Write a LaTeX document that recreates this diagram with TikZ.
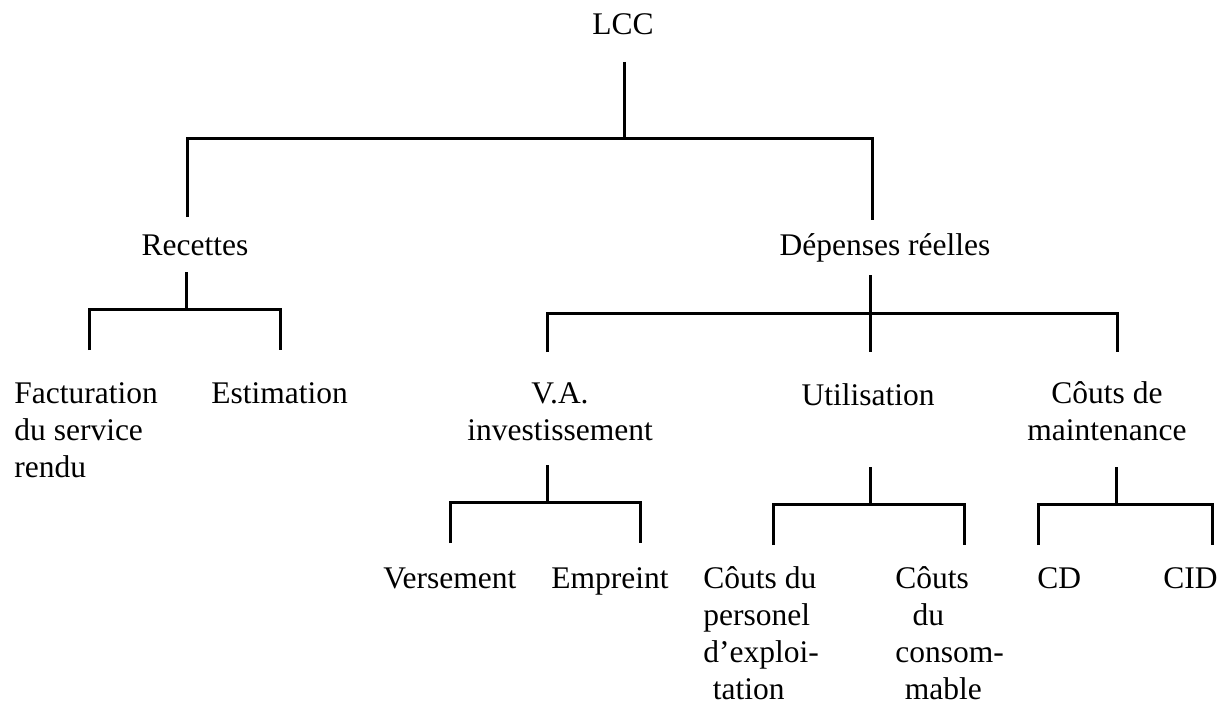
\documentclass[tikz,border=0pt]{standalone}
\usepackage{fontspec}
\setmainfont{Liberation Serif}

\begin{document}
\begin{tikzpicture}[x=0.5pt,y=-0.5pt,
  font=\fontsize{15.75}{18.5}\selectfont,
  label/.style={inner sep=0pt,anchor=base},
  leftlabel/.style={label,anchor=base west,align=left},
  branch/.style={line width=1.5pt}]
  \useasboundingbox (0,0) rectangle (1229,706);

  % Texts of the tree, level by level (multi-line texts sit on their last line).
  \node[label] (lcc) at (623,35) {LCC};
  \node[label] (recettes) at (195,255) {Recettes};
  \node[label] (depenses) at (885,255) {Dépenses réelles};

  \node[leftlabel] (facturation) at (14,477) {Facturation\\du service\\rendu};
  \node[leftlabel] (estimation) at (211,403) {Estimation};
  \node[label,align=center] (va) at (560,440) {V.A.\\investissement};
  \node[label] (utilisation) at (868,405) {Utilisation};
  \node[label,align=center] (maintenance) at (1107,440) {Côuts de\\maintenance};

  \node[leftlabel] (versement) at (383,588) {Versement};
  \node[leftlabel] (empreint) at (551,588) {Empreint};
  \node[leftlabel] (personnel) at (703,699) {Côuts du\\personel\\d’exploi-\\\hspace*{0.3em}tation};
  \node[leftlabel] (consommable) at (895,699) {Côuts\\\hspace*{0.55em}du\\consom-\\\hspace*{0.3em}mable};
  \node[leftlabel] (cd) at (1037,588) {CD};
  \node[label,anchor=base east] (cid) at (1218,588) {CID};

  % Stem ends (out), fork points and child ends (in).
  \coordinate (lcc-out) at (624,62);
  \coordinate (lcc-fork) at (624,138);
  \coordinate (recettes-in) at (187,217);
  \coordinate (depenses-in) at (872,220);

  \coordinate (recettes-out) at (186,272);
  \coordinate (recettes-fork) at (186,309);
  \coordinate (facturation-in) at (89,350);
  \coordinate (estimation-in) at (280,350);

  \coordinate (depenses-out) at (870,275);
  \coordinate (depenses-fork) at (870,313);
  \coordinate (va-in) at (547,352);
  \coordinate (utilisation-in) at (870,352);
  \coordinate (maintenance-in) at (1117,352);

  \coordinate (va-out) at (547,465);
  \coordinate (va-fork) at (547,502);
  \coordinate (versement-in) at (450,543);
  \coordinate (empreint-in) at (640,543);

  \coordinate (utilisation-out) at (870,467);
  \coordinate (utilisation-fork) at (870,504);
  \coordinate (personnel-in) at (773,545);
  \coordinate (consommable-in) at (964,545);

  \coordinate (maintenance-out) at (1116,467);
  \coordinate (maintenance-fork) at (1116,504);
  \coordinate (cd-in) at (1038,545);
  \coordinate (cid-in) at (1212,545);

  % Two-way forks.
  \foreach \pa/\kidl/\kidr in {lcc/recettes/depenses,recettes/facturation/estimation,va/versement/empreint,utilisation/personnel/consommable,maintenance/cd/cid} {
    \draw[branch] (\pa-out) -- (\pa-fork);
    \draw[branch] (\kidl-in) |- (\pa-fork) -| (\kidr-in);
  }
  % The three-way fork under the expenses.
  \draw[branch] (depenses-out) -- (utilisation-in);
  \draw[branch] (va-in) |- (depenses-fork) -| (maintenance-in);
\end{tikzpicture}
\end{document}
